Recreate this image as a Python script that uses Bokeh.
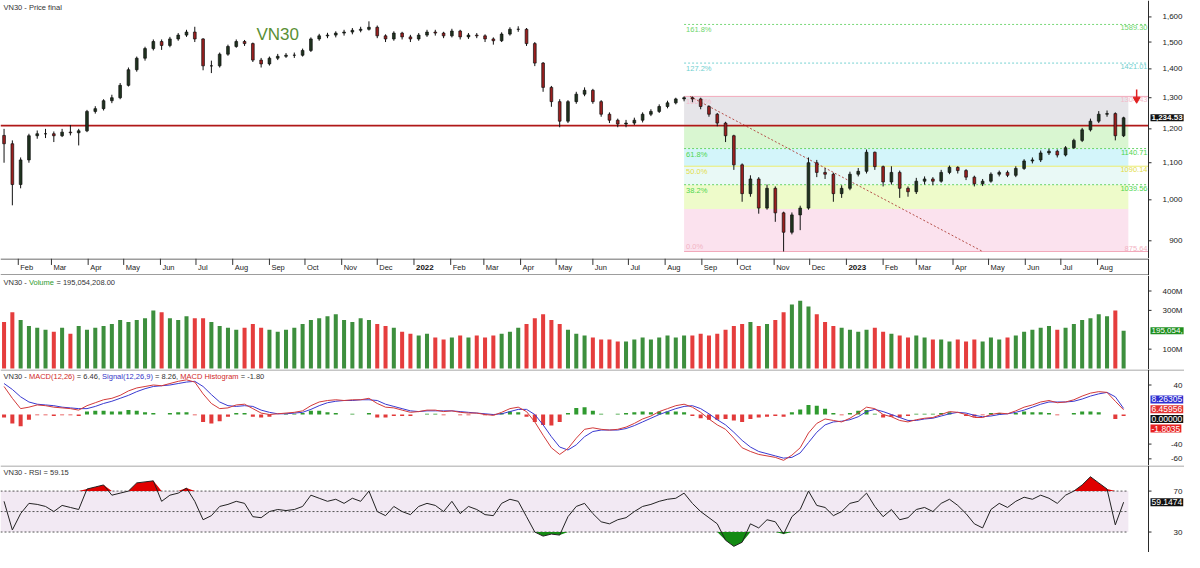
import math
from datetime import datetime, timedelta
from bokeh.plotting import figure
from bokeh.layouts import column
from bokeh.models import Range1d, Label, Span, ColumnDataSource
from bokeh.embed import file_html
from bokeh.resources import INLINE
from bokeh.core.properties import value

# ---------------------------------------------------------------- data (weekly)
first_open = 1180
closes = [1155, 1040, 1108, 1179, 1185, 1185, 1179, 1190, 1188, 1194,
          1255, 1264, 1290, 1300, 1342, 1397, 1439, 1475, 1502, 1487,
          1512, 1527, 1539, 1512, 1411, 1411, 1454, 1483, 1502, 1494,
          1432, 1418, 1439, 1446, 1450, 1450, 1468, 1512, 1524, 1527,
          1535, 1539, 1546, 1550, 1558, 1524, 1512, 1535, 1520, 1512,
          1527, 1539, 1535, 1524, 1543, 1520, 1527, 1524, 1512, 1505,
          1531, 1550, 1550, 1494, 1421, 1335, 1287, 1224, 1287, 1312,
          1325, 1287, 1246, 1227, 1215, 1218, 1227, 1246, 1255, 1271,
          1283, 1296, 1300, 1296, 1271, 1246, 1218, 1179, 1094, 1016,
          1055, 979, 1030, 967, 920, 962, 979, 1100, 1073, 1068,
          1016, 1030, 1068, 1076, 1130, 1089, 1047, 1073, 1030, 1021,
          1049, 1055, 1049, 1073, 1087, 1078, 1060, 1042, 1049, 1068,
          1073, 1065, 1084, 1105, 1108, 1128, 1133, 1122, 1143, 1165,
          1197, 1224, 1246, 1248, 1179, 1234.53]
highs = [1200, 1165, 1115, 1185, 1195, 1200, 1192, 1200, 1212, 1200,
         1260, 1272, 1295, 1310, 1350, 1405, 1445, 1482, 1510, 1510,
         1520, 1535, 1548, 1560, 1515, 1430, 1460, 1490, 1510, 1508,
         1498, 1440, 1445, 1455, 1458, 1460, 1475, 1518, 1532, 1536,
         1542, 1548, 1555, 1560, 1582, 1565, 1530, 1542, 1540, 1528,
         1535, 1548, 1548, 1540, 1552, 1548, 1535, 1535, 1530, 1518,
         1538, 1558, 1562, 1555, 1500, 1425, 1340, 1295, 1292, 1320,
         1335, 1330, 1292, 1252, 1232, 1228, 1235, 1252, 1262, 1278,
         1290, 1300, 1304.43, 1304, 1300, 1275, 1250, 1222, 1182, 1098,
         1065, 1060, 1040, 1035, 970, 968, 985, 1115, 1108, 1085,
         1072, 1038, 1075, 1085, 1138, 1132, 1092, 1090, 1078, 1035,
         1058, 1062, 1060, 1080, 1092, 1090, 1082, 1064, 1055, 1073,
         1078, 1078, 1090, 1110, 1115, 1135, 1140, 1138, 1148, 1170,
         1203, 1232, 1256, 1258, 1252, 1238]
lows = [1100, 986, 1030, 1100, 1170, 1172, 1160, 1175, 1180, 1150,
        1190, 1248, 1258, 1282, 1295, 1338, 1390, 1430, 1468, 1470,
        1480, 1505, 1520, 1500, 1395, 1385, 1405, 1448, 1478, 1485,
        1425, 1405, 1412, 1432, 1440, 1440, 1445, 1462, 1505, 1515,
        1518, 1525, 1530, 1538, 1545, 1515, 1500, 1505, 1510, 1500,
        1505, 1520, 1525, 1515, 1518, 1510, 1512, 1515, 1500, 1490,
        1500, 1525, 1540, 1485, 1410, 1320, 1270, 1205, 1218, 1280,
        1305, 1280, 1238, 1218, 1205, 1205, 1212, 1220, 1240, 1250,
        1265, 1278, 1288, 1285, 1262, 1238, 1208, 1160, 1080, 995,
        1008, 965, 975, 945, 875.64, 915, 925, 975, 1060, 1055,
        995, 1005, 1025, 1062, 1070, 1080, 1035, 1040, 1005, 1008,
        1015, 1040, 1038, 1045, 1068, 1070, 1052, 1035, 1036, 1045,
        1062, 1060, 1060, 1080, 1098, 1102, 1122, 1115, 1118, 1140,
        1160, 1192, 1218, 1238, 1165, 1175]
volumes_m = [240, 290, 250, 220, 210,
             200, 190, 210, 180, 220, 200, 210,
             220, 230, 250, 240, 250, 260,
             300, 290, 260, 250, 270, 260,
             260, 240, 220, 210, 200, 210, 230, 210, 200, 190, 200, 210,
             230, 250, 260, 270, 280, 250, 240, 260, 250, 230, 220, 210,
             190, 180, 170, 180, 160, 150, 160, 170, 160, 170, 160, 170, 180, 190,
             210, 230, 260, 280, 250,
             230, 200, 180, 170, 160, 150, 150, 140, 140, 150, 160, 150, 160, 170, 160, 170,
             170, 180, 170, 180, 200, 220, 230, 240, 220, 230, 250,
             290, 330, 350, 320, 280,
             240, 220, 210, 200, 190, 200, 210, 190,
             180, 170, 160, 170, 160, 150, 150, 140, 150, 140, 150, 140, 160, 150, 160, 170,
             190, 200, 210, 220, 200, 210, 230,
             250, 260, 280, 270, 300, 195]
macd = [38, 22, 8, 10, 13, 12, 10, 9, 8, 6,
        12, 16, 20, 22, 26, 32, 36, 38, 40, 39,
        42, 45, 47, 44, 28, 15, 8, 9, 13, 14,
        8, 2, 0, 1, 2, 3, 5, 12, 17, 19,
        20, 19, 20, 20, 22, 15, 10, 9, 6, 3,
        4, 6, 6, 4, 5, 3, 2, 2, 0, -1,
        3, 8, 10, 4, -10, -28, -45, -54, -46, -32,
        -20, -18, -20, -21, -20, -17, -12, -6, -2, 4,
        8, 12, 14, 10, 3, -6, -14, -20, -32, -45,
        -50, -54, -56, -58, -62, -55, -45, -25, -12, -6,
        -8, -10, -5, 2, 10, 8, 0, -3, -8, -10,
        -7, -5, -4, 0, 4, 3, 0, -4, -4, 0,
        2, 1, 5, 10, 13, 17, 19, 16, 17, 20,
        25, 29, 31, 30, 18, 6.46]
signal = [42, 34, 24, 17, 14, 13, 12, 10, 9, 8,
          8, 11, 15, 18, 22, 26, 31, 35, 38, 39,
          40, 42, 44, 45, 38, 27, 17, 12, 11, 12,
          11, 6, 3, 1, 1, 2, 3, 7, 12, 16,
          18, 19, 19, 20, 20, 19, 14, 11, 8, 5,
          4, 5, 5, 5, 5, 4, 3, 2, 1, 0,
          1, 4, 7, 7, 0, -14, -30, -44, -48, -41,
          -30, -23, -21, -21, -21, -19, -15, -10, -5, 0,
          4, 8, 11, 12, 8, 1, -7, -14, -24, -35,
          -44, -50, -53, -56, -59, -58, -52, -38, -24, -14,
          -10, -9, -7, -3, 4, 7, 4, 0, -4, -8,
          -8, -6, -5, -2, 1, 3, 2, -1, -3, -2,
          0, 1, 3, 6, 10, 14, 17, 17, 17, 18,
          21, 25, 28, 30, 24, 8.26]
rsi = [60, 32, 48, 58, 57, 55, 50, 56, 54, 52,
       72, 74, 76, 66, 68, 70, 78, 79, 80, 60,
       66, 68, 73, 60, 42, 46, 55, 57, 60, 58,
       45, 44, 50, 52, 51, 52, 55, 66, 63, 60,
       62, 58, 63, 60, 70, 50, 46, 55, 50, 47,
       55, 58, 56, 50, 60, 48, 55, 52, 47, 46,
       58, 62, 60, 45, 30, 26, 28, 27, 45, 55,
       58, 48, 40, 38, 42, 44, 50, 55, 57, 60,
       62, 63, 68, 58, 50, 44, 38, 22, 16, 20,
       38, 34, 42, 40, 28, 45, 52, 70, 56, 54,
       46, 50, 58, 60, 68, 55, 45, 52, 42, 44,
       52, 54, 50, 58, 62, 56, 48, 38, 34, 52,
       58, 54, 60, 64, 62, 66, 63, 58, 66, 70,
       76, 84, 78, 72, 37, 59.15]

fib_levels = [875.64, 976.83, 1039.56, 1090.14, 1140.71, 1212.66, 1304.43, 1421.01, 1569.4]
fib_pct = ["0.0%", "23.6%", "38.2%", "50.0%", "61.8%", "78.6%", "100.0%", "127.2%", "161.8%"]
fib_text = ["875.64", "", "1039.56", "1090.14", "1140.71", "", "1304.43", "1421.01", "1589.30"]
support_level = 1210

price_ticks = [900, 1000, 1100, 1200, 1300, 1400, 1500, 1600]
price_tick_text = ["900", "1,000", "1,100", "1,200", "1,300", "1,400", "1,500", "1,600"]
vol_ticks = [100, 300, 400]
vol_tick_text = ["100M", "300M", "400M"]
macd_ticks = [40, -40, -60]
macd_tick_text = ["40", "-40", "-60"]
rsi_ticks = [70, 30]
rsi_tick_text = ["70", "30"]

month_ticks = ["2021-02-01", "2021-03-01", "2021-04-01", "2021-05-01", "2021-06-01", "2021-07-01",
               "2021-08-01", "2021-09-01", "2021-10-01", "2021-11-01", "2021-12-01", "2022-01-01",
               "2022-02-01", "2022-03-01", "2022-04-01", "2022-05-01", "2022-06-01", "2022-07-01",
               "2022-08-01", "2022-09-01", "2022-10-01", "2022-11-01", "2022-12-01", "2023-01-01",
               "2023-02-01", "2023-03-01", "2023-04-01", "2023-05-01", "2023-06-01", "2023-07-01",
               "2023-08-01"]
month_labels = ["Feb", "Mar", "Apr", "May", "Jun", "Jul", "Aug", "Sep", "Oct", "Nov", "Dec", "2022",
                "Feb", "Mar", "Apr", "May", "Jun", "Jul", "Aug", "Sep", "Oct", "Nov", "Dec", "2023",
                "Feb", "Mar", "Apr", "May", "Jun", "Jul", "Aug"]

# ---------------------------------------------------------------- layout constants
FONT = "Liberation Sans"
W, RB = 1184, 36
FW = W - RB
H_PRICE, H_DATE, H_VOL, H_MACD, H_RSI = 258, 17, 94, 96, 87
AXC = "#2a2a2a"
TXT = "#333333"

EPOCH = datetime(1970, 1, 1)
DAY = 86400000.0


def ms(d):
    return (d - EPOCH).total_seconds() * 1000.0


def pdate(s):
    return datetime.strptime(s, "%Y-%m-%d")


xs, xe = ms(datetime(2021, 1, 17)), ms(datetime(2023, 9, 13))   # data frame (left of the price axis)
PX = (xe - xs) / FW                                              # ms per pixel
xfull = xs + W * PX                                              # whole canvas incl. axis strip
XR = Range1d(xs, xfull)

n = len(closes)
wx = [ms(datetime(2021, 1, 20) + timedelta(days=7 * i)) for i in range(n)]
opens = [first_open] + closes[:-1]
is_up = [c >= o for o, c in zip(opens, closes)]

AW = {' ': 278, '-': 333, ',': 278, '.': 278, '(': 333, ')': 333, '=': 584,
      'A': 667, 'C': 722, 'D': 722, 'H': 722, 'I': 278, 'M': 833, 'N': 722, 'P': 667,
      'R': 722, 'S': 667, 'V': 667, 'a': 556, 'c': 500, 'e': 556, 'f': 278, 'g': 556,
      'i': 222, 'l': 222, 'm': 833, 'n': 556, 'o': 556, 'r': 333, 's': 500, 't': 278, 'u': 556}


def tw(s, size):
    return sum(AW.get(ch, 556) for ch in s) * size / 1000.0


def base_fig(h, yr, log=False):
    f = figure(width=W, height=h, x_range=XR, y_range=yr,
               y_axis_type="log" if log else "linear", y_axis_location=None,
               x_axis_location=None, toolbar_location=None, output_backend="svg",
               min_border_left=0, min_border_right=0, min_border_top=0, min_border_bottom=0,
               outline_line_color=None, background_fill_color="white", border_fill_color="white")
    f.grid.visible = False
    # right price axis line
    f.add_layout(Span(location=xe, dimension="height", line_color=AXC, line_width=1))
    return f


def set_ticks(f, ticks, texts):
    f.segment(x0=[xe] * len(ticks), y0=ticks, x1=[xe + 3 * PX] * len(ticks), y1=ticks,
              line_color=AXC, line_width=1)
    f.text(x=[xfull] * len(ticks), y=ticks, text=texts, x_offset=-2, text_align="right",
           text_baseline="middle", text_font=value(FONT), text_font_size="8px", text_color="#222222")


def tag(f, y, txt, bg, bold=False, size="8.5px"):
    f.add_layout(Label(x=xe, y=y, x_offset=2, text=txt, text_align="left", text_baseline="middle",
                       text_font=FONT, text_font_size=size, text_color="white",
                       text_font_style="bold" if bold else "normal",
                       background_fill_color=bg, border_line_color=None, padding=1))


def title(f, y, segs, size=7.5):
    off = 3.0
    for txt, col in segs:
        lead = len(txt) - len(txt.lstrip(" "))
        f.add_layout(Label(x=xs, y=y, x_offset=off + tw(" " * lead, size), text=txt.strip(" "),
                           text_align="left", text_baseline="top", text_font=FONT,
                           text_font_size=f"{size}px", text_color=col))
        off += tw(txt, size)


def hline(f, y, x0, x1, color, width=1, dash="solid"):
    f.segment(x0=[x0], y0=[y], x1=[x1], y1=[y], line_color=color, line_width=width, line_dash=dash)


# ---------------------------------------------------------------- price panel
P_LO, P_HI = 860, 1669
p = base_fig(H_PRICE, Range1d(P_LO, P_HI), log=True)
set_ticks(p, price_ticks, price_tick_text)

fib_x0 = ms(datetime(2022, 8, 17))
fib_x1 = ms(datetime(2023, 8, 27))
band_colors = ["#fbe2ee", "#eefbca", "#e9f9f6", "#d3f5fa", "#d9f6d1", "#e6e5e9"]
p.quad(left=[fib_x0] * 6, right=[fib_x1] * 6, bottom=fib_levels[:6], top=fib_levels[1:7],
       fill_color=band_colors, line_color=None)

fib_line_col = ["#f2a9bb", None, "#66d466", "#ecec70", "#66d466", None, "#f2a9bb", "#78d2d2", "#78d878"]
fib_line_dash = ["solid", None, "2 2", "solid", "2 2", None, "solid", "2 2", "2 2"]
fib_text_col = ["#f2b4c4", None, "#4fd64f", "#e3dc4a", "#4fd64f", None, "#f4bccb", "#6fcfcf", "#6ed66e"]
for k, (lvl, pct, val, lc, ld, tc) in enumerate(zip(fib_levels, fib_pct, fib_text,
                                                    fib_line_col, fib_line_dash, fib_text_col)):
    if lc is None:
        continue
    hline(p, lvl, fib_x0, xe, lc, 1, ld)
    base = "bottom" if k == 0 else "top"
    yo = 0 if k == 0 else 1
    p.text(x=[fib_x0], y=[lvl], text=[pct], x_offset=2, y_offset=yo, text_baseline=base,
           text_align="left", text_font=value(FONT), text_font_size="7.5px", text_color=tc)
    p.text(x=[xe], y=[lvl], text=[val], x_offset=-1, y_offset=yo, text_baseline=base,
           text_align="right", text_font=value(FONT), text_font_size="7.5px", text_color=tc)

# trend line from fib high to fib low
p.line(x=[ms(datetime(2022, 8, 22)), ms(datetime(2023, 4, 26))], y=[fib_levels[6], fib_levels[0]],
       line_color="#b5504a", line_dash="2 2", line_width=1)

hline(p, support_level, xs, xe, "#b01818", 1.6)

src = ColumnDataSource(dict(
    x=wx, h=highs, l=lows,
    top=[max(o, c) for o, c in zip(opens, closes)],
    bot=[min(o, c) for o, c in zip(opens, closes)],
    col=["#1f331f" if u else "#9a1f1f" for u in is_up]))
p.segment(x0="x", y0="h", x1="x", y1="l", line_color="#111111", line_width=1, source=src)
p.vbar(x="x", width=2.3 * DAY, top="top", bottom="bot", fill_color="col",
       line_color="#111111", line_width=0.7, source=src)

# red arrow
ax_arrow = ms(datetime(2023, 9, 3))
p.segment(x0=[ax_arrow], y0=[1328], x1=[ax_arrow], y1=[1300], line_color="#e02020", line_width=1.5)
p.scatter(x=[ax_arrow], y=[1295], marker="inverted_triangle", size=7, color="#e02020")

p.add_layout(Label(x=ms(datetime(2021, 8, 21)), y=1531, text="VN30", text_align="left",
                   text_baseline="middle", text_font=FONT, text_font_size="17px", text_color="#5a8f35"))
ytop = math.exp(math.log(P_HI) - 2.5 * (math.log(P_HI) - math.log(P_LO)) / H_PRICE)
title(p, ytop, [("VN30 - Price final", TXT)])
tag(p, closes[-1], "1,234.53", "#111111", bold=True, size="8px")

# ---------------------------------------------------------------- date band
d = base_fig(H_DATE, Range1d(0, 1))
hline(d, 1 - 0.5 / H_DATE, xs, xe, "#3a3a3a")
hline(d, 0.5 / H_DATE, xs, xe, "#3a3a3a")
mx = [ms(pdate(s)) for s in month_ticks]
d.segment(x0=mx, y0=[1] * len(mx), x1=mx, y1=[0.62] * len(mx), line_color="#333333", line_width=1)
mon_x = [x for x, t in zip(mx, month_labels) if not t.isdigit()]
mon_t = [t for t in month_labels if not t.isdigit()]
yr_x = [x for x, t in zip(mx, month_labels) if t.isdigit()]
yr_t = [t for t in month_labels if t.isdigit()]
d.text(x=mon_x, y=[0.5] * len(mon_x), text=mon_t, x_offset=2, text_baseline="middle", text_align="left",
       text_font=value(FONT), text_font_size="7.5px", text_color="#222222")
d.text(x=yr_x, y=[0.5] * len(yr_x), text=yr_t, x_offset=2, text_baseline="middle", text_align="left",
       text_font=value(FONT), text_font_size="8px", text_font_style="bold", text_color="#111111")

# ---------------------------------------------------------------- volume
V_LO, V_HI = -5, 480
v = base_fig(H_VOL, Range1d(V_LO, V_HI))
set_ticks(v, vol_ticks, vol_tick_text)
vsrc = ColumnDataSource(dict(x=wx, top=volumes_m,
                             col=["#3d8f3d" if u else "#e53d3d" for u in is_up]))
v.vbar(x="x", width=3.4 * DAY, top="top", bottom=0, fill_color="col", line_color=None, source=vsrc)
title(v, V_HI - 2.5 * (V_HI - V_LO) / H_VOL,
      [("VN30 - ", TXT), ("Volume", "#2e9a2e"), (" = 195,054,208.00", TXT)])
tag(v, volumes_m[-1], "195,054,", "#1f8f1f", size="8px")

# ---------------------------------------------------------------- MACD
M_LO, M_HI = -69, 61
m = base_fig(H_MACD, Range1d(M_LO, M_HI))
set_ticks(m, macd_ticks, macd_tick_text)
hline(m, M_HI - 0.5 * (M_HI - M_LO) / H_MACD, xs, xfull, "#8c8c8c")
hist = [a - b for a, b in zip(macd, signal)]
msrc = ColumnDataSource(dict(x=wx, top=hist, col=["#2f9a2f" if h_ >= 0 else "#e23a3a" for h_ in hist]))
m.vbar(x="x", width=3.4 * DAY, top="top", bottom=0, fill_color="col", line_color=None, source=msrc)
m.line(x=wx, y=signal, line_color="#3a3ad0", line_width=1)
m.line(x=wx, y=macd, line_color="#d23a3a", line_width=1)
title(m, M_HI - 2.5 * (M_HI - M_LO) / H_MACD,
      [("VN30 - ", TXT), ("MACD(12,26)", "#d02828"), (" = 6.46, ", TXT),
       ("Signal(12,26,9)", "#3434c8"), (" = 8.26, ", TXT), ("MACD Histogram", "#d02828"),
       (" = -1.80", TXT)])
tag(m, 20.4, "8.26305", "#2f2fd0")
tag(m, 7.2, "6.45956", "#e23030")
tag(m, -5.9, "0.00000", "#111111")
tag(m, -19.0, "-1.8035", "#e82020")

# ---------------------------------------------------------------- RSI
R_LO, R_HI = 10, 95
r = base_fig(H_RSI, Range1d(R_LO, R_HI))
set_ticks(r, rsi_ticks, rsi_tick_text)
hline(r, R_HI - 0.5 * (R_HI - R_LO) / H_RSI, xs, xfull, "#8c8c8c")
band_end = wx[-1] + 4 * DAY
r.quad(left=[xs], right=[band_end], bottom=[30], top=[70], fill_color="#f2e9f3", line_color=None)
for lv in (30, 50, 70):
    hline(r, lv, xs, band_end, "#555555", 1, "2 2")
r.varea(x=wx, y1=[70] * n, y2=[max(a, 70) for a in rsi], fill_color="#e00000")
r.varea(x=wx, y1=[min(a, 30) for a in rsi], y2=[30] * n, fill_color="#138a13")
r.line(x=wx, y=rsi, line_color="#222222", line_width=1)
title(r, R_HI - 2.5 * (R_HI - R_LO) / H_RSI, [("VN30 - RSI = 59.15", TXT)])
tag(r, rsi[-1], "59.1474", "#111111")

layout = column(p, d, v, m, r, spacing=0)
open("out.html", "w").write(file_html(layout, INLINE))
